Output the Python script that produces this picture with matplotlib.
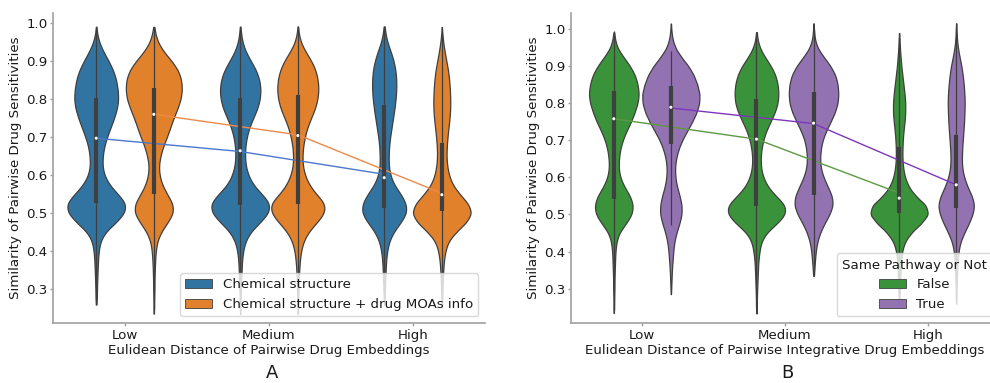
import numpy as np
import pandas as pd
import matplotlib
matplotlib.use("Agg")
import matplotlib.pyplot as plt
import seaborn as sns
from matplotlib.patches import Patch

# ---------------- data ----------------
categories = ["Low", "Medium", "High"]
# histogram bins of the similarity values (0.25 ... 1.00, step 0.025)
bins = np.round(np.arange(0.25, 1.0001, 0.025), 3)

# Panel A: counts per bin
a_groups = ["Chemical structure", "Chemical structure + drug MOAs info"]
a_counts = {
    ("Low", a_groups[0]):    [0,2,2,3,4,5,7,11,25,55,80,84,60,36,22,17,18,22,30,40,50,58,62,60,56,48,35,20,8,2,0],
    ("Low", a_groups[1]):    [1,1,2,2,3,4,6,10,22,42,60,58,40,25,17,15,20,28,40,50,60,72,82,86,84,75,55,30,12,4,0],
    ("Medium", a_groups[0]): [1,1,2,3,4,5,8,14,28,55,80,84,60,35,22,15,13,14,18,25,36,48,55,57,54,45,30,15,6,2,0],
    ("Medium", a_groups[1]): [1,1,2,3,4,6,9,16,30,55,78,80,52,32,20,14,13,15,20,27,38,50,57,60,58,52,40,22,8,2,0],
    ("High", a_groups[0]):   [0,1,2,3,4,5,8,13,25,45,62,60,45,26,16,12,12,13,16,20,24,28,31,33,33,31,26,18,8,3,0],
    ("High", a_groups[1]):   [0,1,2,3,4,6,10,18,40,70,86,75,50,30,20,15,13,14,16,19,22,24,24,23,21,18,13,8,4,1,0],
}
# Panel B
b_groups = ["False", "True"]
b_counts = {
    ("Low", "False"):    [1,1,2,2,3,4,5,8,16,38,58,62,52,33,20,15,16,20,28,40,55,66,76,80,76,68,52,30,10,3,0],
    ("Low", "True"):     [0,0,1,2,3,5,7,10,16,25,32,32,26,18,13,12,15,22,33,48,63,76,84,85,78,68,52,30,12,4,1],
    ("Medium", "False"): [1,1,2,3,4,5,8,12,25,55,80,80,52,30,18,12,11,13,18,26,38,50,58,60,58,52,40,22,8,2,0],
    ("Medium", "True"):  [0,0,0,0,2,4,6,10,18,30,45,55,52,40,28,20,18,20,25,35,48,60,68,70,68,62,48,28,10,3,1],
    ("High", "False"):   [0,1,2,3,4,5,8,15,32,60,82,75,45,26,16,11,9,9,10,12,15,17,17,15,12,9,6,4,2,1,0],
    ("High", "True"):    [0,1,1,2,3,4,7,12,24,38,50,56,48,34,24,18,17,18,20,22,24,25,26,25,23,20,16,10,5,2,1],
}

# inner box statistics (per category) : [Low, Medium, High]
a_q1  = {a_groups[0]: [0.526, 0.521, 0.513], a_groups[1]: [0.550, 0.523, 0.504]}
a_med = {a_groups[0]: [0.697, 0.664, 0.593], a_groups[1]: [0.760, 0.704, 0.548]}
a_q3  = {a_groups[0]: [0.802, 0.802, 0.785], a_groups[1]: [0.829, 0.811, 0.684]}
a_wlo = {a_groups[0]: [0.258, 0.260, 0.260], a_groups[1]: [0.247, 0.250, 0.250]}
a_whi = {a_groups[0]: [0.987, 0.987, 0.990], a_groups[1]: [0.990, 0.987, 0.975]}

b_q1  = {"False": [0.542, 0.522, 0.504], "True": [0.691, 0.552, 0.517]}
b_med = {"False": [0.758, 0.703, 0.544], "True": [0.789, 0.746, 0.580]}
b_q3  = {"False": [0.832, 0.811, 0.681], "True": [0.845, 0.829, 0.715]}
b_wlo = {"False": [0.243, 0.248, 0.280], "True": [0.472, 0.333, 0.280]}
b_whi = {"False": [0.994, 0.989, 0.976], "True": [0.940, 1.000, 1.005]}

# trend lines
a_line = {a_groups[0]: [0.697, 0.662, 0.602], a_groups[1]: [0.760, 0.706, 0.552]}
b_line = {"False": [0.758, 0.703, 0.558], "True": [0.787, 0.745, 0.580]}

# ---------------- styling ----------------
a_pal = {a_groups[0]: "#3274a1", a_groups[1]: "#e1812c"}
b_pal = {"False": "#3a923a", "True": "#9372b2"}
a_line_col = {a_groups[0]: "#4a78cc", a_groups[1]: "#ee8a48"}
b_line_col = {"False": "#5c9a42", "True": "#7d35bd"}
EDGE = "#3f3f3f"
TXT = "#1a1a1a"
FS = 9.6

plt.rcParams["font.family"] = ["DejaVu Sans"]
plt.rcParams["font.size"] = FS

fig = plt.figure(figsize=(9.9, 3.83), dpi=100)
axA = fig.add_axes([53 / 990, 1 - 323 / 383, 432 / 990, 310 / 383])
axB = fig.add_axes([571 / 990, 1 - 323 / 383, 428 / 990, 310 / 383])


def make_df(counts):
    rows = []
    for (cat, grp), c in counts.items():
        vals = np.repeat(bins, c)
        rows.append(pd.DataFrame({"cat": cat, "grp": grp, "val": vals}))
    return pd.concat(rows, ignore_index=True)


def panel(ax, counts, groups, pal, q1, med, q3, wlo, whi, line, line_col, ylim,
          xlabel):
    df = make_df(counts)
    # scale the two violins of each category together (equal areas within a category)
    for cat in categories:
        sub = df[df["cat"] == cat]
        sns.violinplot(data=sub, x="cat", y="val", hue="grp", order=categories,
                       hue_order=groups, palette=pal, saturation=1, inner=None,
                       bw_method=0.1, cut=1, density_norm="area", common_norm=True,
                       linewidth=0.9, linecolor=EDGE, width=0.8, legend=False, ax=ax)
    xpos = np.arange(len(categories))
    offs = [-0.2, 0.2]
    for g, off in zip(groups, offs):
        x = xpos + off
        ax.plot(x, line[g], color=line_col[g], lw=1.0, zorder=4)
    for g, off in zip(groups, offs):
        x = xpos + off
        ax.vlines(x, wlo[g], whi[g], color=EDGE, lw=0.9, zorder=5)
        ax.vlines(x, q1[g], q3[g], color=EDGE, lw=3.0, zorder=5)
        ax.scatter(x, med[g], s=5, color="white", edgecolor="none", zorder=6)
    ax.set_xlim(-0.5, 2.5)
    ax.set_ylim(*ylim)
    ax.set_yticks([0.3, 0.4, 0.5, 0.6, 0.7, 0.8, 0.9, 1.0])
    ax.set_xticks(xpos)
    ax.set_xticklabels(categories)
    ax.set_xlabel(xlabel, fontsize=FS, color=TXT, labelpad=2)
    ax.set_ylabel("Similarity of Pairwise Drug Sensitivities", fontsize=FS,
                  color=TXT, labelpad=3)
    for s in ["top", "right"]:
        ax.spines[s].set_visible(False)
    for s in ["left", "bottom"]:
        ax.spines[s].set_color("#a0a0a0")
        ax.spines[s].set_linewidth(1.2)
    ax.tick_params(axis="both", length=2.5, width=1, color="#a0a0a0",
                   labelsize=FS, labelcolor=TXT, pad=1.5)
    ax.set_facecolor("white")
    handles = [Patch(facecolor=pal[g], edgecolor=EDGE, linewidth=0.6) for g in groups]
    return handles


hA = panel(axA, a_counts, a_groups, a_pal, a_q1, a_med, a_q3, a_wlo, a_whi,
           a_line, a_line_col, (0.21, 1.027),
           "Eulidean Distance of Pairwise Drug Embeddings")
hB = panel(axB, b_counts, b_groups, b_pal, b_q1, b_med, b_q3, b_wlo, b_whi,
           b_line, b_line_col, (0.2076, 1.043),
           "Eulidean Distance of Pairwise Integrative Drug Embeddings")

axA.legend(hA, a_groups, loc="lower right", fontsize=FS, frameon=True,
           framealpha=0.8, edgecolor="#d0d0d0", labelcolor=TXT)
legB = axB.legend(hB, b_groups, loc="lower right", fontsize=FS, frameon=True,
                  framealpha=0.8, edgecolor="#d0d0d0", labelcolor=TXT,
                  title="Same Pathway or Not", title_fontsize=FS)
legB.get_title().set_color(TXT)

fig.text(272 / 990, 0.003, "A", fontsize=13, ha="center", va="bottom", color=TXT)
fig.text(787 / 990, 0.003, "B", fontsize=13, ha="center", va="bottom", color=TXT)

fig.savefig("out.png", dpi=100, facecolor="white")
